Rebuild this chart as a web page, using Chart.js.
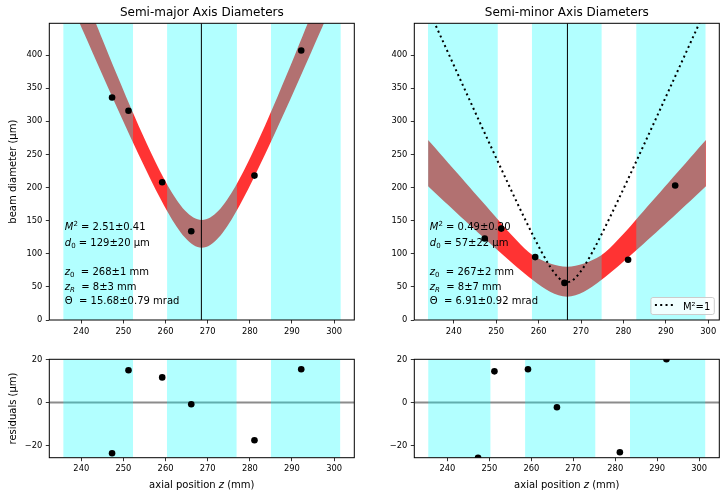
<!DOCTYPE html>
<html>
<head>
<meta charset="utf-8">
<script src="https://cdn.jsdelivr.net/npm/chart.js@4.4.1/dist/chart.umd.min.js"></script>
<style>
  body { margin: 0; background: #fff; }
  .panel { position: absolute; }
  canvas { display: block; }
</style>
</head>
<body>
<div class="panel" style="left:0;top:0"><canvas id="topLeft" width="362" height="345"></canvas></div>
<div class="panel" style="left:362px;top:0"><canvas id="topRight" width="363" height="345"></canvas></div>
<div class="panel" style="left:0;top:345px"><canvas id="botLeft" width="362" height="155"></canvas></div>
<div class="panel" style="left:362px;top:345px"><canvas id="botRight" width="363" height="155"></canvas></div>
<script>
// measured positions (mm) and diameters / residuals (µm)
const zData = [247.3, 251.2, 259.2, 266.1, 281.1, 292.2];
const majorDiam = [336, 316, 208, 134, 218, 407];
const minorDiam = [123, 138, 95, 56, 91, 203];
const majorResid = [-23.5, 15.0, 11.7, -0.8, -17.5, 15.5];
const minorResid = [-25.6, 14.5, 15.5, -2.2, -23.1, 20.1];

// fit band, semi-major axis
const majorFitZ = [238.6, 240.6, 242.6, 244.6, 246.6, 248.6, 250.6, 252.6, 254.6, 256.6, 258.6, 260.6, 262.6, 264.6, 266.6, 268.6,
  270.6, 272.6, 274.6, 276.6, 278.6, 280.6, 282.6, 284.6, 286.6, 288.6, 290.6, 292.6, 294.6, 296.6, 298.6];
const majorFitHi = [525.5, 493.5, 461.6, 430.0, 398.8, 368.0, 337.6, 308.0, 279.2, 251.7, 225.7, 202.0, 181.5, 165.2, 154.7, 151,
  154.7, 165.2, 181.5, 202.0, 225.7, 251.7, 279.2, 308.0, 337.6, 368.0, 398.8, 430.0, 461.6, 493.5, 525.5];
const majorFitLo = [462.8, 433.7, 404.8, 376.0, 347.4, 319.1, 291.1, 263.5, 236.5, 210.4, 185.4, 162.1, 141.3, 124.4, 113.1, 109,
  113.1, 124.4, 141.3, 162.1, 185.4, 210.4, 236.5, 263.5, 291.1, 319.1, 347.4, 376.0, 404.8, 433.7, 462.8];

// fit band, semi-minor axis
const minorFitZ = [233.95, 234.7, 236.7, 238.7, 240.7, 242.7, 244.7, 246.7, 248.7, 250.7, 252.7, 254.7, 256.7, 258.7, 260.7, 262.7, 264.7,
  266.7, 268.7, 270.7, 272.7, 274.7, 276.7, 278.7, 280.7, 282.7, 284.7, 286.7, 288.7, 290.7, 292.7, 294.7, 296.7, 298.7, 299.45];
const minorFitHi = [271.9, 266.4, 251.8, 237.2, 222.6, 208.0, 193.4, 178.8, 164.2, 149.5, 134.8, 121.2, 108.0, 97.4, 90.6, 85.3, 81.8,
  80.5, 81.8, 85.3, 90.6, 97.4, 108.0, 121.2, 134.8, 149.5, 164.2, 178.8, 193.4, 208.0, 222.6, 237.2, 251.8, 266.4, 271.9];
const minorFitLo = [201.9, 197.4, 185.4, 173.5, 161.7, 149.9, 138.1, 126.4, 114.8, 103.3, 92.0, 80.9, 70.2, 60.0, 50.6, 42.8, 37.2,
  35.2, 37.2, 42.8, 50.6, 60.0, 70.2, 80.9, 92.0, 103.3, 114.8, 126.4, 138.1, 149.9, 161.7, 173.5, 185.4, 197.4, 201.9];

// M²=1 reference curve
const idealZ = [232.7, 234.7, 236.7, 238.7, 240.7, 242.7, 244.7, 246.7, 248.7, 250.7, 252.7, 254.7, 256.7, 258.7, 260.7, 262.7, 263.7, 264.7, 265.7,
  266.7, 267.7, 268.7, 269.7, 270.7, 272.7, 274.7, 276.7, 278.7, 280.7, 282.7, 284.7, 286.7, 288.7, 290.7, 292.7, 294.7, 296.7, 298.7, 300.7];
const idealDiam = [487.8, 459.6, 431.3, 403.1, 374.9, 346.7, 318.6, 290.6, 262.8, 235.0, 207.5, 180.2, 153.5, 127.5, 102.8, 80.6, 71.3, 63.7, 58.8,
  57, 58.8, 63.7, 71.3, 80.6, 102.8, 127.5, 153.5, 180.2, 207.5, 235.0, 262.8, 290.6, 318.6, 346.7, 374.9, 403.1, 431.3, 459.6, 487.8];

// waist positions
const majorZ0 = 268.5;
const minorZ0 = 266.8;

// shaded regions (start / end, mm)
const majorSpanStart = [235.7, 260.35, 285.0];
const majorSpanEnd = [252.3, 276.95, 301.6];
const minorSpanStart = [233.9, 258.4, 283.0];
const minorSpanEnd = [250.4, 274.9, 299.4];
const majorResSpanStart = [235.7, 260.3, 285.0];
const majorResSpanEnd = [252.3, 276.9, 301.5];
const minorResSpanStart = [235.4, 258.5, 283.5];
const minorResSpanEnd = [250.3, 275.3, 301.5];

// axes
const zTicks = [240, 250, 260, 270, 280, 290, 300];
const diamTicks = [0, 50, 100, 150, 200, 250, 300, 350, 400];
const residTicks = [-20, 0, 20];
const diamMax = 448;
const residMin = -25.6;
const residMax = 20.1;
const majorLimits = [232.4, 304.8];
const minorLimits = [230.7, 302.6];
const minorResLimits = [232.1, 304.8];

// fit summaries
const majorText = [
  [['M', 'i'], ['2', '^'], [' = 2.51±0.41', '']],
  [['d', 'i'], ['0', '_'], [' = 129±20 µm', '']],
  [['z', 'i'], ['0', '_'], ['  = 268±1 mm', '']],
  [['z', 'i'], ['R', '_i'], ['  = 8±3 mm', '']],
  [['Θ', ''], ['  = 15.68±0.79 mrad', '']]
];
const minorText = [
  [['M', 'i'], ['2', '^'], [' = 0.49±0.20', '']],
  [['d', 'i'], ['0', '_'], [' = 57±22 µm', '']],
  [['z', 'i'], ['0', '_'], ['  = 267±2 mm', '']],
  [['z', 'i'], ['R', '_i'], ['  = 8±7 mm', '']],
  [['Θ', ''], ['  = 6.91±0.92 mrad', '']]
];
const textBaselines = [230, 245.5, 275, 289.5, 304.3];
const xTitle = [['axial position ', ''], ['z', 'i'], [' (mm)', '']];

Chart.defaults.font.family = '"DejaVu Sans", sans-serif';
Chart.defaults.color = '#000';

// small mixed-font text helpers (italic, sub- and superscripts)
function richFont(kind) {
  let size = (kind.includes('^') || kind.includes('_')) ? 7 : 10;
  return (kind.includes('i') ? 'italic ' : '') + size + 'px "DejaVu Sans"';
}

function richWidth(ctx, parts) {
  let w = 0;
  parts.forEach(([t, k]) => { ctx.font = richFont(k); w += ctx.measureText(t).width; });
  return w;
}

function drawRich(ctx, x, y, parts) {
  ctx.textAlign = 'left';
  ctx.textBaseline = 'alphabetic';
  parts.forEach(([t, k]) => {
    ctx.font = richFont(k);
    let dy = k.includes('^') ? -4 : (k.includes('_') ? 2 : 0);
    ctx.fillText(t, x, y + dy);
    x += ctx.measureText(t).width;
  });
}

function roundRect(ctx, x, y, w, h, r) {
  ctx.beginPath();
  ctx.moveTo(x + r, y);
  ctx.arcTo(x + w, y, x + w, y + h, r);
  ctx.arcTo(x + w, y + h, x, y + h, r);
  ctx.arcTo(x, y + h, x, y, r);
  ctx.arcTo(x, y, x + w, y, r);
  ctx.closePath();
}

// legend box in the lower right corner
function drawLegend(chart) {
  let ds = chart.data.datasets.find(d => d.label);
  if (!ds) return;
  let ctx = chart.ctx, a = chart.chartArea;
  ctx.font = '10px "DejaVu Sans"';
  let w = 36 + ctx.measureText(ds.label).width, h = 17;
  let x = a.right - 5 - w, y = a.bottom - 5.5 - h;
  roundRect(ctx, x, y, w, h, 2);
  ctx.fillStyle = 'rgba(255,255,255,0.8)';
  ctx.fill();
  ctx.strokeStyle = '#cccccc';
  ctx.lineWidth = 1;
  ctx.stroke();
  ctx.beginPath();
  ctx.setLineDash(ds.borderDash);
  ctx.lineWidth = ds.borderWidth;
  ctx.strokeStyle = ds.borderColor;
  ctx.moveTo(x + 4, y + h / 2 - 1);
  ctx.lineTo(x + 24, y + h / 2 - 1);
  ctx.stroke();
  ctx.setLineDash([]);
  ctx.fillStyle = '#000';
  ctx.textAlign = 'left';
  ctx.textBaseline = 'alphabetic';
  ctx.fillText(ds.label, x + 32, y + h / 2 + 3.5);
}

// frame, fit text, legend and x title on top of the datasets
const decorate = {
  id: 'decorate',
  afterDatasetsDraw(chart, args, opts) {
    let ctx = chart.ctx, a = chart.chartArea;
    ctx.save();
    ctx.fillStyle = '#000';
    if (opts.lines) {
      opts.lines.forEach((parts, i) => drawRich(ctx, a.left + 15.5, textBaselines[i], parts));
    }
    if (opts.xTitle) {
      let w = richWidth(ctx, opts.xTitle);
      drawRich(ctx, (a.left + a.right) / 2 - w / 2, opts.xTitleY, opts.xTitle);
    }
    if (opts.legend) drawLegend(chart);
    ctx.strokeStyle = '#000';
    ctx.lineWidth = 1;
    ctx.strokeRect(a.left, a.top, a.right - a.left, a.bottom - a.top);
    ctx.restore();
  }
};

function points(xs, ys) {
  return xs.map((x, i) => ({ x: x, y: ys[i] }));
}

function bandSets(zs, hi, lo) {
  return [
    { data: points(zs, hi), fill: '+1', backgroundColor: 'rgba(255,0,0,0.8)', borderWidth: 0, pointRadius: 0,
      cubicInterpolationMode: 'monotone', order: 10, clip: 0 },
    { data: points(zs, lo), fill: false, borderWidth: 0, pointRadius: 0,
      cubicInterpolationMode: 'monotone', order: 10, clip: 0 }
  ];
}

function spanSets(starts, ends, top) {
  return starts.map((s, i) => ({
    data: [{ x: s, y: top }, { x: ends[i], y: top }],
    fill: 'start', backgroundColor: 'rgba(0,255,255,0.3)', borderWidth: 0, pointRadius: 0, order: 5, clip: 0
  }));
}

function vLine(z0, top) {
  return { data: [{ x: z0, y: 0 }, { x: z0, y: top }], borderColor: '#000', borderWidth: 1, pointRadius: 0, order: 3, clip: 0 };
}

function zeroLine(limits) {
  return { data: [{ x: limits[0], y: 0 }, { x: limits[1], y: 0 }], borderColor: 'rgb(140,140,140)', borderWidth: 2,
    pointRadius: 0, order: 10, clip: 0 };
}

function dots(xs, ys) {
  return { data: points(xs, ys), showLine: false, pointRadius: 3.3, pointBackgroundColor: '#000',
    pointBorderWidth: 0, order: 1, clip: 0 };
}

function axes(xLim, yMin, yMax, yTicks, yTitle, yWidth, xHeight) {
  let tickGrid = { drawOnChartArea: false, drawTicks: true, tickLength: 3.5, color: '#000', lineWidth: 0.8 };
  return {
    x: {
      type: 'linear', min: xLim[0], max: xLim[1],
      afterBuildTicks: s => { s.ticks = zTicks.map(v => ({ value: v })); },
      afterFit: s => { s.height = xHeight; },
      ticks: { font: { size: 8.33 }, padding: 3, maxRotation: 0, autoSkip: false },
      grid: tickGrid, border: { display: false }
    },
    y: {
      type: 'linear', min: yMin, max: yMax,
      afterBuildTicks: s => { s.ticks = yTicks.map(v => ({ value: v })); },
      afterFit: s => { s.width = yWidth; },
      ticks: { font: { size: 8.33 }, padding: 3.5, autoSkip: false, callback: v => String(v).replace('-', '\u2212') },
      grid: tickGrid, border: { display: false },
      title: { display: !!yTitle, text: yTitle || '', font: { size: 10 }, padding: { top: 7, bottom: 0 } }
    }
  };
}

function makePanel(id, datasets, scales, padding, title, deco) {
  return new Chart(document.getElementById(id), {
    type: 'line',
    data: { datasets: datasets },
    options: {
      responsive: false,
      devicePixelRatio: 1,
      animation: false,
      events: [],
      layout: { padding: padding },
      scales: scales,
      plugins: {
        legend: { display: false },
        tooltip: { enabled: false },
        title: {
          display: !!title, text: title || '', fullSize: false,
          font: { size: 12, weight: 'normal' }, padding: { top: 5.5, bottom: 3.4 }
        },
        decorate: deco
      }
    },
    plugins: [decorate]
  });
}

// Semi-major, top left
makePanel('topLeft',
  [...bandSets(majorFitZ, majorFitHi, majorFitLo), ...spanSets(majorSpanStart, majorSpanEnd, diamMax),
    vLine(majorZ0, diamMax), dots(zData, majorDiam)],
  axes(majorLimits, 0, diamMax, diamTicks, 'beam diameter (µm)', 49.3, 25),
  { top: 0, right: 7.7, bottom: 0, left: 0 },
  'Semi-major Axis Diameters',
  { lines: majorText });

// Semi-minor, top right
makePanel('topRight',
  [...bandSets(minorFitZ, minorFitHi, minorFitLo), ...spanSets(minorSpanStart, minorSpanEnd, diamMax),
    vLine(minorZ0, diamMax),
    { label: 'M²=1', data: points(idealZ, idealDiam), borderColor: '#000', borderWidth: 2, borderDash: [2, 3.3],
      pointRadius: 0, cubicInterpolationMode: 'monotone', order: 2, clip: 0 },
    dots(zData, minorDiam)],
  axes(minorLimits, 0, diamMax, diamTicks, null, 52.3, 25),
  { top: 0, right: 5.7, bottom: 0, left: 0 },
  'Semi-minor Axis Diameters',
  { lines: minorText, legend: true });

// residuals, bottom left
makePanel('botLeft',
  [zeroLine(majorLimits), ...spanSets(majorResSpanStart, majorResSpanEnd, residMax), dots(zData, majorResid)],
  axes(majorLimits, residMin, residMax, residTicks, 'residuals (µm)', 49.3, 42.3),
  { top: 14.3, right: 7.7, bottom: 0, left: 0 },
  null,
  { xTitle: xTitle, xTitleY: 143 });

// residuals, bottom right
makePanel('botRight',
  [zeroLine(minorResLimits), ...spanSets(minorResSpanStart, minorResSpanEnd, residMax), dots(zData, minorResid)],
  axes(minorResLimits, residMin, residMax, residTicks, null, 52.3, 42.3),
  { top: 14.3, right: 5.7, bottom: 0, left: 0 },
  null,
  { xTitle: xTitle, xTitleY: 143 });
</script>
</body>
</html>
